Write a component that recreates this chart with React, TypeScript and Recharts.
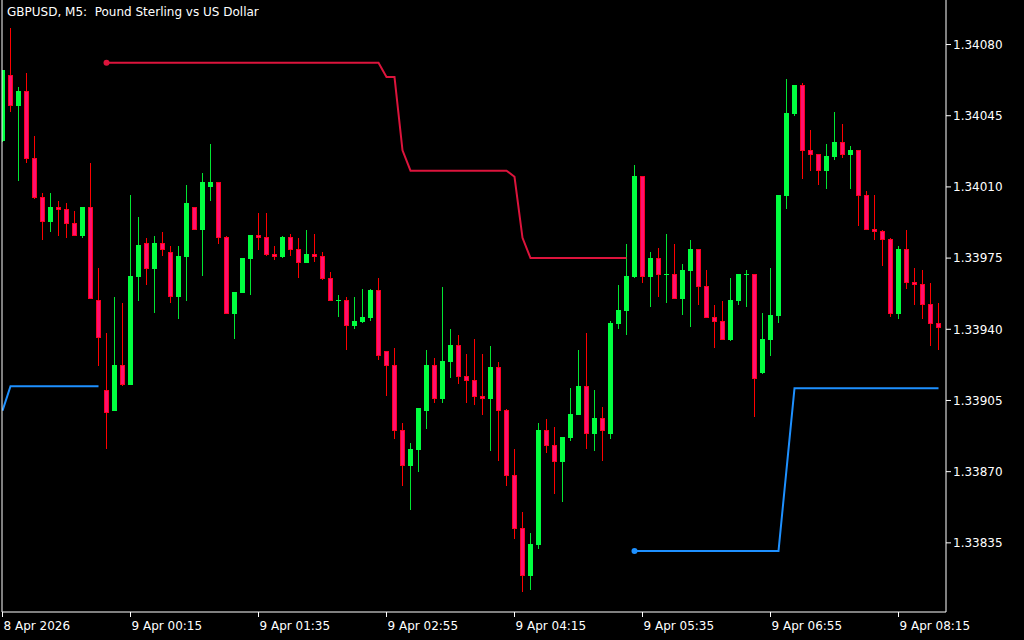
import React from "react";
import { ComposedChart, Bar, Line, XAxis, YAxis } from "recharts";

// GBPUSD M5 bars, 8 Apr 23:00 .. 9 Apr 08:45
const opens = [
  1.34033, 1.34065, 1.3405, 1.34057, 1.34024, 1.34005, 1.33993, 1.34, 1.33999, 1.33992,
  1.33986, 1.34, 1.33954, 1.3391, 1.339, 1.33922, 1.33913, 1.33966, 1.33982, 1.3397,
  1.33982, 1.33978, 1.33956, 1.33976, 1.34, 1.33989, 1.3401, 1.34012, 1.33985, 1.33948,
  1.33958, 1.33975, 1.33986, 1.33985, 1.33977, 1.33976, 1.33985, 1.33979, 1.33973, 1.33977,
  1.33976, 1.33965, 1.33954, 1.33954, 1.33942, 1.33944, 1.33946, 1.33959, 1.33929, 1.33922,
  1.3389, 1.33873, 1.33881, 1.339, 1.33922, 1.33906, 1.33924, 1.33932, 1.33917, 1.33915,
  1.33907, 1.33906, 1.33921, 1.339, 1.33868, 1.33842, 1.33819, 1.33834, 1.3389, 1.33883,
  1.33875, 1.33887, 1.33898, 1.33912, 1.33889, 1.33896, 1.33889, 1.33943, 1.33949, 1.33966,
  1.34015, 1.33966, 1.33975, 1.33967, 1.33967, 1.33955, 1.33969, 1.33979, 1.33961, 1.33946,
  1.33944, 1.33935, 1.33954, 1.33967, 1.33967, 1.33919, 1.33935, 1.33947, 1.34006, 1.34046,
  1.3406, 1.34028, 1.34026, 1.34018, 1.34025, 1.34032, 1.34026, 1.34028, 1.34006, 1.33989,
  1.33988, 1.33984, 1.33948, 1.33979, 1.33963, 1.33962, 1.33952, 1.33943,
];
const highs = [
  1.34067, 1.34088, 1.34059, 1.34066, 1.34035, 1.34007, 1.34007, 1.34003, 1.34002, 1.33998,
  1.34, 1.34022, 1.3397, 1.33938, 1.33956, 1.33953, 1.34006, 1.33995, 1.33985, 1.33986,
  1.33988, 1.33981, 1.33981, 1.34011, 1.34, 1.34017, 1.34031, 1.34012, 1.33986, 1.33958,
  1.33975, 1.33986, 1.33997, 1.33997, 1.33981, 1.33986, 1.33987, 1.33985, 1.33989, 1.33987,
  1.33978, 1.33968, 1.33957, 1.33956, 1.33956, 1.3396, 1.3396, 1.33965, 1.33929, 1.33931,
  1.33894, 1.33884, 1.33901, 1.3393, 1.33926, 1.33961, 1.3394, 1.33937, 1.33928, 1.33935,
  1.33928, 1.33932, 1.33924, 1.33901, 1.33881, 1.3385, 1.3384, 1.33894, 1.33896, 1.33892,
  1.33887, 1.33911, 1.3393, 1.33938, 1.3391, 1.33902, 1.33944, 1.33962, 1.33982, 1.34021,
  1.34015, 1.33978, 1.3398, 1.33987, 1.33982, 1.33972, 1.33984, 1.33979, 1.33969, 1.33952,
  1.33954, 1.33965, 1.33967, 1.33969, 1.33967, 1.33948, 1.3397, 1.34006, 1.34063, 1.3406,
  1.34061, 1.34038, 1.34026, 1.34031, 1.34047, 1.34041, 1.3403, 1.34028, 1.34008, 1.34006,
  1.33989, 1.33985, 1.33981, 1.33989, 1.3397, 1.33969, 1.33963, 1.33953,
];
const lows = [
  1.34032, 1.34047, 1.34013, 1.34022, 1.34004, 1.33984, 1.33988, 1.33986, 1.33985, 1.33986,
  1.33985, 1.33955, 1.33922, 1.33881, 1.339, 1.33912, 1.33913, 1.33954, 1.33962, 1.33948,
  1.33976, 1.33953, 1.33945, 1.33954, 1.33989, 1.33966, 1.34003, 1.33982, 1.33948, 1.33935,
  1.33958, 1.33957, 1.33979, 1.33976, 1.33974, 1.33975, 1.33976, 1.33965, 1.33973, 1.33973,
  1.33964, 1.33954, 1.33946, 1.3393, 1.3394, 1.33943, 1.33944, 1.33925, 1.33907, 1.33886,
  1.33863, 1.33851, 1.3387, 1.33891, 1.33904, 1.33904, 1.33916, 1.33913, 1.33904, 1.33903,
  1.33898, 1.3388, 1.33875, 1.33863, 1.33837, 1.33811, 1.33812, 1.33832, 1.33879, 1.33859,
  1.33855, 1.33885, 1.33898, 1.33881, 1.3388, 1.33875, 1.33886, 1.3394, 1.33937, 1.33965,
  1.33963, 1.33951, 1.33956, 1.33953, 1.33955, 1.33947, 1.33941, 1.33952, 1.33946, 1.33931,
  1.33935, 1.33934, 1.33952, 1.33951, 1.33897, 1.33918, 1.33927, 1.33943, 1.33999, 1.34045,
  1.34014, 1.34018, 1.34011, 1.34009, 1.34023, 1.34024, 1.34009, 1.33991, 1.33989, 1.33984,
  1.33971, 1.33946, 1.33945, 1.3396, 1.33952, 1.33945, 1.33932, 1.3393,
];
const closes = [
  1.34067, 1.3405, 1.34057, 1.34024, 1.34005, 1.33993, 1.34, 1.33999, 1.33992, 1.33986,
  1.34, 1.33955, 1.33936, 1.33899, 1.33922, 1.33913, 1.33966, 1.33981, 1.3397, 1.33982,
  1.33979, 1.33956, 1.33976, 1.34002, 1.33989, 1.34012, 1.34012, 1.33985, 1.33948, 1.33958,
  1.33975, 1.33986, 1.33985, 1.33977, 1.33976, 1.33985, 1.33979, 1.33973, 1.33977, 1.33976,
  1.33965, 1.33954, 1.33954, 1.33942, 1.33944, 1.33946, 1.33959, 1.33927, 1.33922, 1.3389,
  1.33873, 1.33881, 1.33901, 1.33922, 1.33906, 1.33924, 1.33932, 1.33917, 1.33915, 1.33907,
  1.33906, 1.33921, 1.339, 1.33868, 1.33842, 1.33819, 1.33834, 1.3389, 1.33883, 1.33875,
  1.33887, 1.33898, 1.33912, 1.33889, 1.33896, 1.3389, 1.33943, 1.33949, 1.33966, 1.34015,
  1.33966, 1.33975, 1.33967, 1.33967, 1.33955, 1.33969, 1.33979, 1.33961, 1.33946, 1.33944,
  1.33935, 1.33954, 1.33967, 1.33967, 1.33916, 1.33935, 1.33947, 1.34006, 1.34046, 1.3406,
  1.34028, 1.34026, 1.34018, 1.34025, 1.34032, 1.34026, 1.34028, 1.34006, 1.33989, 1.33988,
  1.33984, 1.33948, 1.33979, 1.33963, 1.33962, 1.33952, 1.33943, 1.33941,
];

const N = null;
// upper (red) and lower (blue) level lines
const resistance = [
  N, N, N, N, N, N, N, N, N, N,
  N, N, N, 1.34071, 1.34071, 1.34071, 1.34071, 1.34071, 1.34071, 1.34071,
  1.34071, 1.34071, 1.34071, 1.34071, 1.34071, 1.34071, 1.34071, 1.34071, 1.34071, 1.34071,
  1.34071, 1.34071, 1.34071, 1.34071, 1.34071, 1.34071, 1.34071, 1.34071, 1.34071, 1.34071,
  1.34071, 1.34071, 1.34071, 1.34071, 1.34071, 1.34071, 1.34071, 1.34071, 1.34064, 1.34064,
  1.34028, 1.34018, 1.34018, 1.34018, 1.34018, 1.34018, 1.34018, 1.34018, 1.34018, 1.34018,
  1.34018, 1.34018, 1.34018, 1.34018, 1.34015, 1.33985, 1.33975, 1.33975, 1.33975, 1.33975,
  1.33975, 1.33975, 1.33975, 1.33975, 1.33975, 1.33975, 1.33975, 1.33975, 1.33975, N,
  N, N, N, N, N, N, N, N, N, N,
  N, N, N, N, N, N, N, N, N, N,
  N, N, N, N, N, N, N, N, N, N,
  N, N, N, N, N, N, N, N,
];
const support = [
  1.339, 1.33912, 1.33912, 1.33912, 1.33912, 1.33912, 1.33912, 1.33912, 1.33912, 1.33912,
  1.33912, 1.33912, 1.33912, N, N, N, N, N, N, N,
  N, N, N, N, N, N, N, N, N, N,
  N, N, N, N, N, N, N, N, N, N,
  N, N, N, N, N, N, N, N, N, N,
  N, N, N, N, N, N, N, N, N, N,
  N, N, N, N, N, N, N, N, N, N,
  N, N, N, N, N, N, N, N, N, 1.33831,
  1.33831, 1.33831, 1.33831, 1.33831, 1.33831, 1.33831, 1.33831, 1.33831, 1.33831, 1.33831,
  1.33831, 1.33831, 1.33831, 1.33831, 1.33831, 1.33831, 1.33831, 1.33831, 1.33871, 1.33911,
  1.33911, 1.33911, 1.33911, 1.33911, 1.33911, 1.33911, 1.33911, 1.33911, 1.33911, 1.33911,
  1.33911, 1.33911, 1.33911, 1.33911, 1.33911, 1.33911, 1.33911, 1.33911,
];

const xTicks = [0, 16, 32, 48, 64, 80, 96, 112];
const xTickLabels = [
  "8 Apr 2026", "9 Apr 00:15", "9 Apr 01:35", "9 Apr 02:55",
  "9 Apr 04:15", "9 Apr 05:35", "9 Apr 06:55", "9 Apr 08:15",
];
const yTicks = [1.3408, 1.34045, 1.3401, 1.33975, 1.3394, 1.33905, 1.3387, 1.33835];

const FONT = "'DejaVu Sans', sans-serif";
const BULL = "#00ff40";
const BULL_WICK = "#00e632";
const BEAR_FILL = "#ff0f6f";
const BEAR_EDGE = "#ff0022";
const BEAR_WICK = "#ff0000";

const data = opens.map((o, i) => ({
  i,
  open: o,
  high: highs[i],
  low: lows[i],
  close: closes[i],
  range: [lows[i], highs[i]],
  res: resistance[i],
  sup: support[i],
}));

const Candle = (props: any) => {
  const { x, y, width, height, payload } = props;
  if (x == null || y == null) return <g />;
  const { open, close, high, low } = payload;
  const cx = x + width / 2;
  const top = Math.min(y, y + height);
  const h = Math.abs(height);
  const span = high - low || 1;
  const py = (v: number) => top + ((high - v) / span) * h;
  const up = close >= open;
  const yo = py(open);
  const yc = py(close);
  const bodyTop = Math.min(yo, yc);
  const bodyH = Math.abs(yc - yo);
  return (
    <g shapeRendering="crispEdges">
      <line x1={cx} x2={cx} y1={top} y2={top + h} stroke={up ? BULL_WICK : BEAR_WICK} strokeWidth={1} />
      {bodyH < 0.5 ? (
        <line x1={cx - 2.5} x2={cx + 2.5} y1={yo} y2={yo} stroke={BULL} strokeWidth={1} />
      ) : (
        <rect
          x={cx - 2}
          y={bodyTop}
          width={4}
          height={bodyH}
          fill={up ? BULL : BEAR_FILL}
          stroke={up ? BULL : BEAR_EDGE}
          strokeWidth={1}
        />
      )}
    </g>
  );
};

// dot at the first point of each level segment
const startDot = (arr: (number | null)[], color: string) => (props: any) => {
  const { cx, cy, index } = props;
  if (index > 0 && arr[index] != null && arr[index - 1] == null && cy != null) {
    return <circle key={`dot-${index}`} cx={cx} cy={cy} r={3} fill={color} />;
  }
  return <g key={`dot-${index}`} />;
};

const XTick = (props: any) => {
  const { x, y, payload } = props;
  const idx = xTicks.indexOf(payload.value);
  return (
    <g>
      <line x1={x} x2={x} y1={y} y2={y + 5} stroke="#fff" />
      <text x={x + 1} y={y + 18} fill="#fff" fontSize={12} fontFamily={FONT} textAnchor="start">
        {xTickLabels[idx]}
      </text>
    </g>
  );
};

const YTick = (props: any) => {
  const { x, y, payload } = props;
  return (
    <g>
      <line x1={x} x2={x + 5} y1={y} y2={y} stroke="#fff" />
      <text x={x + 7} y={y} dy="0.36em" fill="#fff" fontSize={12} fontFamily={FONT} textAnchor="start">
        {Number(payload.value).toFixed(5)}
      </text>
    </g>
  );
};

export default function App() {
  return (
    <div style={{ position: "absolute", left: 0, top: 0, width: 1024, height: 640, background: "#000" }}>
      <ComposedChart width={1024} height={640} data={data} margin={{ top: 0, right: 0, bottom: 0, left: 0 }}>
        <XAxis
          dataKey="i"
          type="number"
          domain={[-0.0625, 117.9375]}
          allowDataOverflow
          ticks={xTicks}
          interval={0}
          height={28}
          tickSize={0}
          tickMargin={0}
          axisLine={{ stroke: "#fff" }}
          tickLine={false}
          tick={<XTick />}
        />
        <YAxis
          yAxisId="frame"
          orientation="left"
          width={2}
          domain={[0, 1]}
          tick={false}
          tickLine={false}
          axisLine={{ stroke: "#fff" }}
        />
        <YAxis
          orientation="right"
          width={78}
          domain={[1.33801, 1.341019]}
          allowDataOverflow
          ticks={yTicks}
          interval={0}
          tickSize={0}
          tickMargin={0}
          axisLine={{ stroke: "#fff" }}
          tickLine={false}
          tick={<YTick />}
        />
        <Bar dataKey="range" barSize={6} shape={<Candle />} isAnimationActive={false} />
        <Line
          dataKey="res"
          type="linear"
          stroke="#dc143c"
          strokeWidth={2}
          dot={startDot(resistance, "#dc143c")}
          activeDot={false}
          isAnimationActive={false}
        />
        <Line
          dataKey="sup"
          type="linear"
          stroke="#1e90ff"
          strokeWidth={2}
          dot={startDot(support, "#1e90ff")}
          activeDot={false}
          isAnimationActive={false}
        />
      </ComposedChart>
      <div
        style={{
          position: "absolute",
          left: 7,
          top: 6,
          color: "#fff",
          fontFamily: FONT,
          fontSize: 12,
          lineHeight: "12px",
          whiteSpace: "pre",
        }}
      >
        {"GBPUSD, M5:  Pound Sterling vs US Dollar"}
      </div>
    </div>
  );
}
